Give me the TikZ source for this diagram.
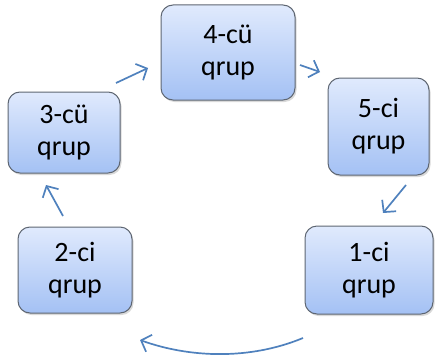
\documentclass[tikz,border=0pt]{standalone}
\usepackage{fontspec}
\setmainfont{Carlito}
\usetikzlibrary{arrows.meta,shadows}
\definecolor{arrowblue}{HTML}{4F81BD}
\definecolor{boxtop}{HTML}{E0EAFD}
\definecolor{boxbot}{HTML}{A4C1F4}
\definecolor{boxline}{HTML}{5E6672}
\tikzset{
  grpbox/.style={draw=boxline, line width=1pt, rounded corners=12pt,
    top color=boxtop, bottom color=boxbot, align=center,
    font=\fontsize{28}{32}\selectfont, inner sep=0pt,
    drop shadow={opacity=0.3, shadow xshift=1.5pt, shadow yshift=-2pt}},
  flow/.style={draw=arrowblue, line width=1.7pt,
    -{Straight Barb[length=8.5pt,width=18pt,line width=1.7pt]}}
}
\begin{document}
\begin{tikzpicture}[x=1pt,y=-1pt]
\useasboundingbox (0,0) rectangle (435,361);
\node[grpbox, minimum width=134pt, minimum height=95pt] (b4) at (228,52.5) {4-cü\\qrup};
\node[grpbox, minimum width=101pt, minimum height=97pt] (b5) at (378.5,126.5) {5-ci\\qrup};
\node[grpbox, minimum width=128pt, minimum height=88pt] (b1) at (369,270) {1-ci\\qrup};
\node[grpbox, minimum width=114pt, minimum height=86pt] (b2) at (75,270) {2-ci\\qrup};
\node[grpbox, minimum width=112pt, minimum height=81pt] (b3) at (64,132.5) {3-cü\\qrup};
\coordinate (a34s) at (116,83);  \coordinate (a34e) at (148,68);
\coordinate (a45s) at (300,65);  \coordinate (a45e) at (320,72);
\coordinate (a51s) at (406,185); \coordinate (a51e) at (383,213);
\coordinate (a12s) at (303,338); \coordinate (a12e) at (140,340);
\coordinate (a23s) at (63,216);  \coordinate (a23e) at (46,185);
\draw[flow] (a34s) -- (a34e);
\draw[flow] (a45s) -- (a45e);
\draw[flow] (a51s) -- (a51e);
\draw[flow] (a12s) .. controls (250,360) and (190,358) .. (a12e);
\draw[flow] (a23s) -- (a23e);
\end{tikzpicture}
\end{document}
